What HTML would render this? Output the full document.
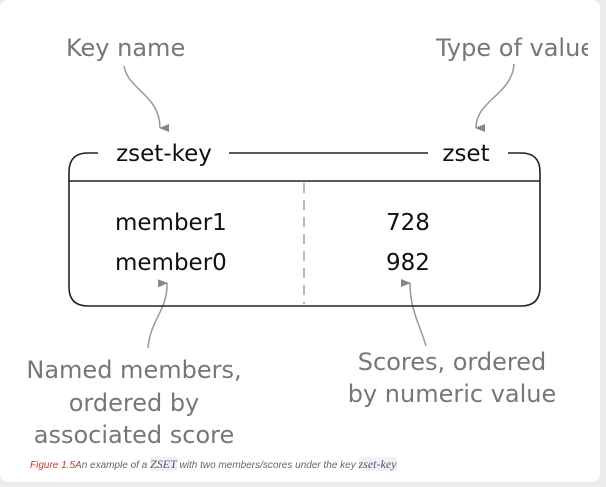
<!DOCTYPE html>
<html><head><meta charset="utf-8"><style>
html,body{margin:0;padding:0;background:#ececec;width:606px;height:487px;overflow:hidden}
#card{position:absolute;left:0;top:0;width:600px;height:482px;background:#fff;border-radius:8px}
svg{position:absolute;left:0;top:0}
.cap{position:absolute;left:30px;top:457px;font:italic 10px "Liberation Sans",sans-serif;color:#666;white-space:nowrap}
.cap .f{color:#c0392b}
.cap .c{background:#eef2f6;color:#556;font-family:"Liberation Serif",serif;font-size:12px}
</style></head><body>
<div id="card"></div>
<svg width="606" height="487" font-family="DejaVu Sans, Liberation Sans, sans-serif">
<defs><clipPath id="cl"><rect x="0" y="0" width="588" height="487"/></clipPath>
<marker id="ah" markerWidth="8" markerHeight="10" refX="4" refY="9" orient="auto-start-reverse" markerUnits="userSpaceOnUse"><path d="M0,0 L4,10 L8,0 Z" fill="#888"/></marker></defs>
<g fill="#777" font-size="24">
<text x="66" y="56">Key name</text>
<text x="436" y="56" clip-path="url(#cl)">Type of value</text>
<text text-anchor="middle"><tspan x="134" y="378">Named members,</tspan><tspan x="134" y="411">ordered by</tspan><tspan x="134" y="443">associated score</tspan></text>
<text text-anchor="middle"><tspan x="452" y="370">Scores, ordered</tspan><tspan x="452" y="402">by numeric value</tspan></text>
</g>
<g stroke="#999" stroke-width="1.5" fill="none">
<path d="M124,66 C128,90 160,95 160,128" marker-end="url(#ah)"/>
<path d="M514,64 C512,95 476,100 476,128" marker-end="url(#ah)"/>
<path d="M148,348 C150,320 168,310 167,283" marker-end="url(#ah)"/>
<path d="M426,346 C420,325 410,310 410,283" marker-end="url(#ah)"/>
</g>
<g stroke="#222" stroke-width="1.6" fill="none">
<path d="M98,153 L88,153 Q69,153 69,172 L69,287 Q69,306 88,306 L521,306 Q540,306 540,287 L540,172 Q540,153 521,153 L508,153"/>
<line x1="229" y1="153" x2="428" y2="153"/>
<line x1="69" y1="181" x2="540" y2="181"/>
<line x1="304" y1="183" x2="304" y2="304" stroke="#888" stroke-width="1.2" stroke-dasharray="10,7"/>
</g>
<g fill="#111" font-size="23">
<text x="164" y="161" text-anchor="middle">zset-key</text>
<text x="466" y="161" text-anchor="middle">zset</text>
<text x="115" y="230">member1</text>
<text x="115" y="270">member0</text>
<text x="386" y="230">728</text>
<text x="386" y="270">982</text>
</g>
</svg>
<div class="cap"><span class="f">Figure 1.5</span>An example of a <span class="c">ZSET</span> with two members/scores under the key <span class="c">zset-key</span></div>
</body></html>
